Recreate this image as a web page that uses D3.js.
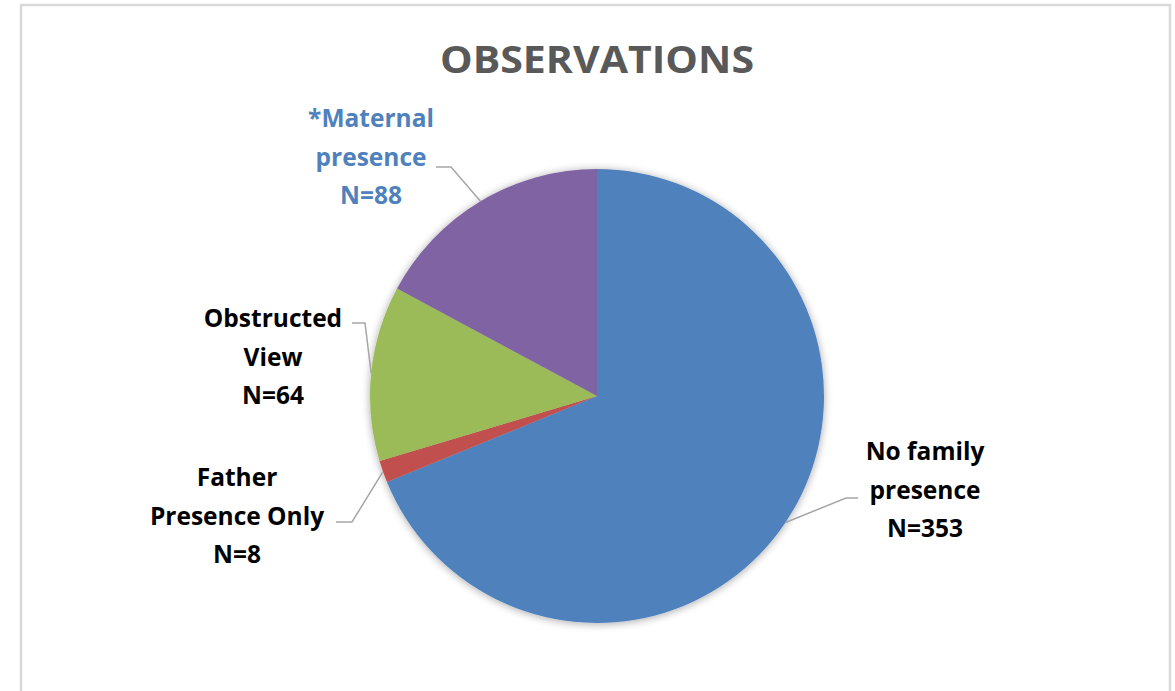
<!DOCTYPE html>
<html>
<head>
<meta charset="utf-8">
<script src="https://cdn.jsdelivr.net/npm/d3@7"></script>
<style>
  html, body { margin: 0; padding: 0; background: #fff; }
  svg { display: block; }
  text { font-family: "Open Sans", "Noto Sans", sans-serif; font-weight: 700; }
</style>
</head>
<body>
<svg id="chart" width="1175" height="691"></svg>
<script>
// Observation categories, in drawing order (clockwise from 12 o'clock)
const categories = ["No family presence", "Father Presence Only", "Obstructed View", "*Maternal presence"];
const counts = [353, 8, 64, 88];
const sliceColors = ["#4f81bd", "#c0504d", "#9bbb59", "#8064a2"];
const labelLines = [
  ["No family", "presence", "N=353"],
  ["Father", "Presence Only", "N=8"],
  ["Obstructed", "View", "N=64"],
  ["*Maternal", "presence", "N=88"]
];
const labelColors = ["#000000", "#000000", "#000000", "#4f81bd"];

const W = 1175, H = 691;
const cx = 597, cy = 396, radius = 227;

const svg = d3.select("#chart");

// chart frame
svg.append("rect")
  .attr("x", 21).attr("y", 5)
  .attr("width", 1149).attr("height", 700)
  .attr("fill", "#fff")
  .attr("stroke", "#d9d9d9").attr("stroke-width", 2.5);

// title
svg.append("text")
  .attr("x", 597).attr("y", 73)
  .attr("text-anchor", "middle")
  .attr("font-size", 37)
  .attr("fill", "#595959")
  .attr("textLength", 314)
  .attr("lengthAdjust", "spacingAndGlyphs")
  .text("OBSERVATIONS");

// soft shadow around the pie
const defs = svg.append("defs");
const f = defs.append("filter").attr("id", "pieShadow")
  .attr("x", "-20%").attr("y", "-20%").attr("width", "140%").attr("height", "140%");
f.append("feGaussianBlur").attr("in", "SourceAlpha").attr("stdDeviation", 4).attr("result", "b");
f.append("feOffset").attr("in", "b").attr("dx", 0).attr("dy", 1).attr("result", "o");
f.append("feComponentTransfer").attr("in", "o").attr("result", "s")
  .append("feFuncA").attr("type", "linear").attr("slope", 0.35);
const m = f.append("feMerge");
m.append("feMergeNode").attr("in", "s");
m.append("feMergeNode").attr("in", "SourceGraphic");

const pie = d3.pie().sort(null).value(d => d)(counts);
const arc = d3.arc().innerRadius(0).outerRadius(radius);

const g = svg.append("g").attr("transform", `translate(${cx},${cy})`).attr("filter", "url(#pieShadow)");
g.selectAll("path.slice")
  .data(pie)
  .join("path")
  .attr("class", "slice")
  .attr("d", arc)
  .attr("fill", (d, i) => sliceColors[i]);

// label placement: text block center x and first baseline y
const labelPos = [
  { x: 925, y: 460 },
  { x: 237, y: 486 },
  { x: 273, y: 327 },
  { x: 371, y: 127 }
];
const lineH = 38.5;

// leader lines: short horizontal stub beside the label, then to the slice's mid-angle on the rim
const elbows = [
  { start: [858, 498], mid: [846, 498] },
  { start: [336, 522], mid: [352, 522] },
  { start: [352, 323], mid: [365, 323] },
  { start: [436, 167], mid: [451, 167] }
];

pie.forEach((d, i) => {
  const a = (d.startAngle + d.endAngle) / 2;
  const ex = cx + Math.sin(a) * radius;
  const ey = cy - Math.cos(a) * radius;
  svg.append("polyline")
    .attr("points", [elbows[i].start, elbows[i].mid, [ex, ey]].map(p => p.join(",")).join(" "))
    .attr("fill", "none")
    .attr("stroke", "#a6a6a6")
    .attr("stroke-width", 1.5);
});

labelLines.forEach((lines, i) => {
  const t = svg.append("text")
    .attr("text-anchor", "middle")
    .attr("font-size", 24.5)
    .attr("fill", labelColors[i]);
  lines.forEach((s, k) => {
    t.append("tspan")
      .attr("x", labelPos[i].x)
      .attr("y", labelPos[i].y + k * lineH)
      .text(s);
  });
});
</script>
</body>
</html>
